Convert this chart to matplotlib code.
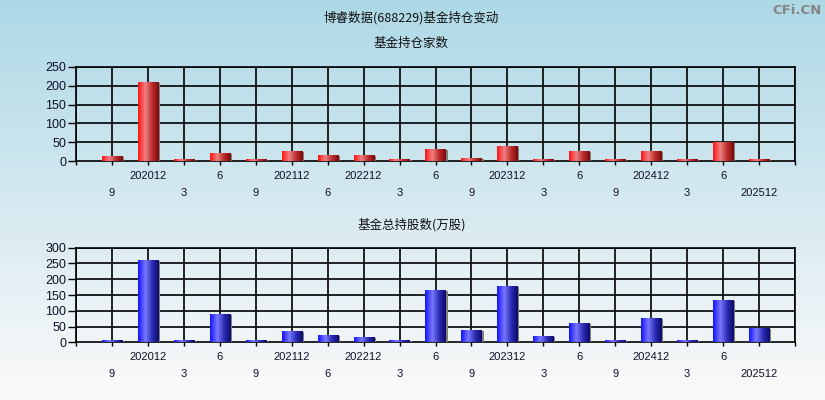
import numpy as np
import matplotlib
matplotlib.use('Agg')
import matplotlib.pyplot as plt
from matplotlib.colors import LinearSegmentedColormap

# -------------------------[Data]-------------------------
periods = ['202009', '202012', '202103', '202106', '202109', '202112', '202206',
           '202212', '202303', '202306', '202309', '202312', '202403', '202406',
           '202409', '202412', '202503', '202506', '202512']
fund_count = [11, 207, 4, 19, 4, 25, 14, 14, 4, 30, 6, 38, 4, 25, 4, 25, 4, 49, 4]
fund_shares = [5, 258, 5, 87, 5, 33, 20, 15, 5, 163, 36, 175, 17, 58, 5, 74, 5, 131, 42]

title = '博睿数据(688229)基金持仓变动'
sub_titles = ['基金持仓家数', '基金总持股数(万股)']
y_ticks = [[0, 50, 100, 150, 200, 250], [0, 50, 100, 150, 200, 250, 300]]
# --------------------------------------------------------

CJK = ['Noto Sans CJK SC', 'DejaVu Sans']
NUM = ['Liberation Sans', 'DejaVu Sans']

red_cmap = LinearSegmentedColormap.from_list(
    'red_bar', [(0, '#ff1414'), (0.35, '#f08080'), (0.7, '#b82828'), (1, '#7a0c0c')])
blue_cmap = LinearSegmentedColormap.from_list(
    'blue_bar', [(0, '#1414ff'), (0.35, '#7878ff'), (0.7, '#2828b0'), (1, '#0c0c6a')])


def tick_label(p):
    return p if p.endswith('12') else str(int(p[4:]))


fig = plt.figure(figsize=(8.25, 4), dpi=100)

# Background gradient
bg = fig.add_axes([0, 0, 1, 1], zorder=-10)
top_c = np.array([173, 216, 230]) / 255
bot_c = np.array([252, 250, 250]) / 255
t = np.linspace(0, 1, 200)[:, None]
grad = top_c[None, :] * (1 - t) + bot_c[None, :] * t
bg.imshow(grad[:, None, :], aspect='auto', extent=[0, 1, 0, 1])
bg.axis('off')

fig.text(411.5 / 825, 1 - 18 / 400, title, ha='center', va='center',
         fontsize=9, family=CJK, color='#111111')
fig.text(822 / 825, 1 - 10 / 400, 'CFi.CN', ha='right', va='center',
         fontsize=9.5, fontweight='bold', color='#858585', family=['DejaVu Sans'])

x = np.arange(1, len(periods) + 1)
w = 0.56
shadow_dx = 2 / 36.0
gvals = np.linspace(0, 1, 64).reshape(1, -1)

panels = [
    (fund_count, red_cmap, 1 - 161.3 / 400, 43, sub_titles[0], y_ticks[0]),
    (fund_shares, blue_cmap, 1 - 342.3 / 400, 225, sub_titles[1], y_ticks[1]),
]

for vals, cmap, bottom, sub_y, sub, yt in panels:
    ax = fig.add_axes([76 / 825, bottom, 719 / 825, 94.6 / 400])
    ax.set_facecolor('none')
    fig.text(411.5 / 825, 1 - sub_y / 400, sub, ha='center', va='center',
             fontsize=9, family=CJK, color='#111111')

    # shadow, then invisible bars used as frames for gradient images
    ax.bar(x + shadow_dx, vals, width=w, color='#7f7f7f', lw=0, zorder=2)
    bars = ax.bar(x, vals, width=w, color='none', lw=0, zorder=3)
    for b in bars:
        bx, by = b.get_x(), b.get_y()
        ax.imshow(gvals, cmap=cmap, aspect='auto', zorder=3, interpolation='bilinear',
                  extent=[bx, bx + b.get_width(), by, by + b.get_height()])

    ax.set_xlim(0, len(periods) + 1)
    ax.set_ylim(yt[0], yt[-1])
    ax.set_yticks(yt)
    ax.set_yticklabels([str(v) for v in yt], fontsize=9, family=NUM, color='#101028')

    # two rows of x labels
    upper = [i for i in range(len(periods)) if i % 2 == 1]
    lower = [i for i in range(len(periods)) if i % 2 == 0]
    ax.set_xticks([0, len(periods) + 1] + [x[i] for i in upper])
    ax.set_xticklabels(['', ''] + [tick_label(periods[i]) for i in upper],
                       fontsize=8, family=NUM, color='#101028')
    ax.set_xticks([x[i] for i in lower], minor=True)
    ax.set_xticklabels([tick_label(periods[i]) for i in lower], minor=True,
                       fontsize=8, family=NUM, color='#101028')
    ax.tick_params(axis='x', which='major', length=3, width=1, pad=4, color='black')
    ax.tick_params(axis='x', which='minor', length=3, width=1, pad=16, color='black')
    ax.tick_params(axis='y', length=6, width=1, pad=1, color='black')

    for xi in range(0, len(periods) + 2):
        ax.axvline(xi, color='black', lw=1.2, zorder=1)
    for yi in yt[1:]:
        ax.axhline(yi, color='black', lw=1.2, zorder=1)
    for s in ax.spines.values():
        s.set_color('black')
        s.set_linewidth(1.2)
        s.set_zorder(1.5)

fig.savefig('out.png', dpi=100)
